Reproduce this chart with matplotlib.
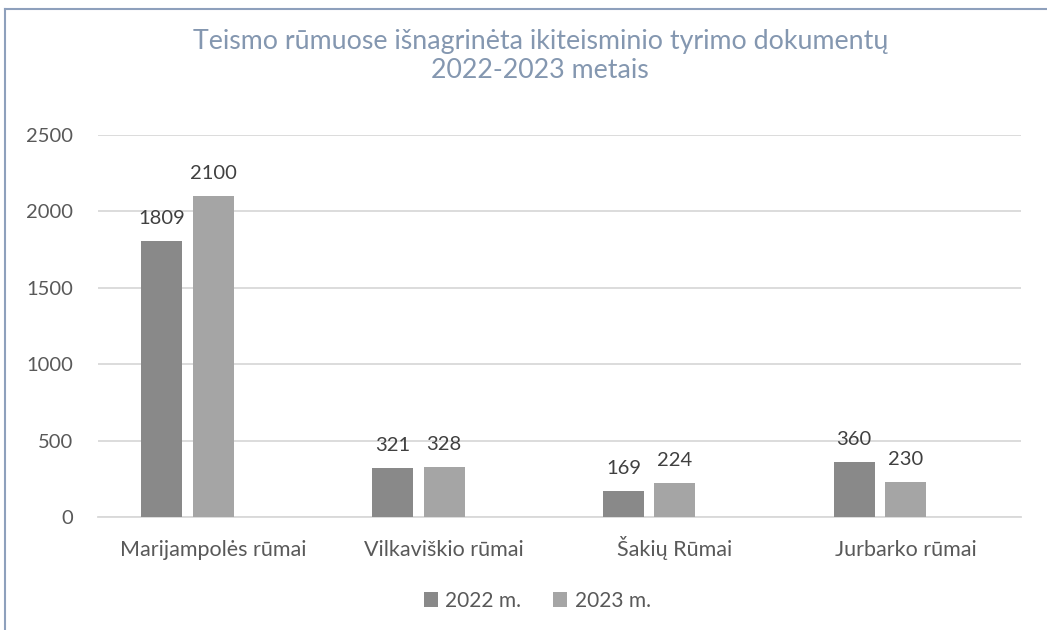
import numpy as np
import matplotlib.pyplot as plt
from matplotlib.lines import Line2D

categories = ['Marijampolės rūmai', 'Vilkaviškio rūmai', 'Šakių Rūmai', 'Jurbarko rūmai']
vals_2022 = [1809, 321, 169, 360]
vals_2023 = [2100, 328, 224, 230]
series_labels = ['2022 m.', '2023 m.']
y_ticks = [0, 500, 1000, 1500, 2000, 2500]

title = 'Teismo rūmuose išnagrinėta ikiteisminio tyrimo dokumentų\n2022-2023 metais'

plt.rcParams['font.family'] = ['Lato', 'DejaVu Sans']

fig = plt.figure(figsize=(10.47, 6.3), dpi=100)
ax = fig.add_axes([0.0936, 0.1794, 0.8816, 0.6063])

x = np.arange(len(categories))
w = 0.1775
off = 0.223
colors = ['#898989', '#a5a5a5']

b1 = ax.bar(x - off, vals_2022, w, color=colors[0], label=series_labels[0], zorder=3)
b2 = ax.bar(x, vals_2023, w, color=colors[1], label=series_labels[1], zorder=3)

for bars in (b1, b2):
    for rect in bars:
        h = rect.get_height()
        ax.annotate(str(int(h)), (rect.get_x() + rect.get_width() / 2, h),
                    xytext=(0, 10), textcoords='offset points',
                    ha='center', va='bottom', fontsize=14.5, color='#404040')

ax.set_xlim(-0.5, 3.5)
ax.set_ylim(0, 2500)
ax.set_yticks(y_ticks)
ax.set_xticks(x)
ax.set_xticklabels(categories)
ax.tick_params(axis='both', length=0, colors='#595959')
ax.tick_params(axis='y', pad=18, labelsize=14.5)
ax.tick_params(axis='x', pad=28, labelsize=15.5)
for lbl in ax.get_xticklabels():
    lbl.set_va('baseline')
ax.yaxis.grid(True, color='#d9d9d9', linewidth=1.3, zorder=0)
for s in ['top', 'right', 'left']:
    ax.spines[s].set_visible(False)
ax.spines['bottom'].set_color('#d9d9d9')
ax.spines['bottom'].set_linewidth(1.3)

fig.text(0.516, 0.911, title, ha='center', va='center', fontsize=19.3,
         color='#8497b0', linespacing=1.2)

fig.legend(handles=[b1, b2], labels=series_labels, loc='center',
           bbox_to_anchor=(0.513, 0.046), ncol=2, frameon=False,
           fontsize=15, labelcolor='#595959', handlelength=0.7,
           handleheight=0.7, handletextpad=0.35, columnspacing=1.5)

# chart frame (only top and left edges visible in the reference)
fig.add_artist(Line2D([0.005, 1.0], [0.986, 0.986], color='#8ea0bc', linewidth=1.5))
fig.add_artist(Line2D([0.005, 0.005], [0.0, 0.986], color='#8ea0bc', linewidth=1.5))

fig.savefig('out.png', dpi=100)
